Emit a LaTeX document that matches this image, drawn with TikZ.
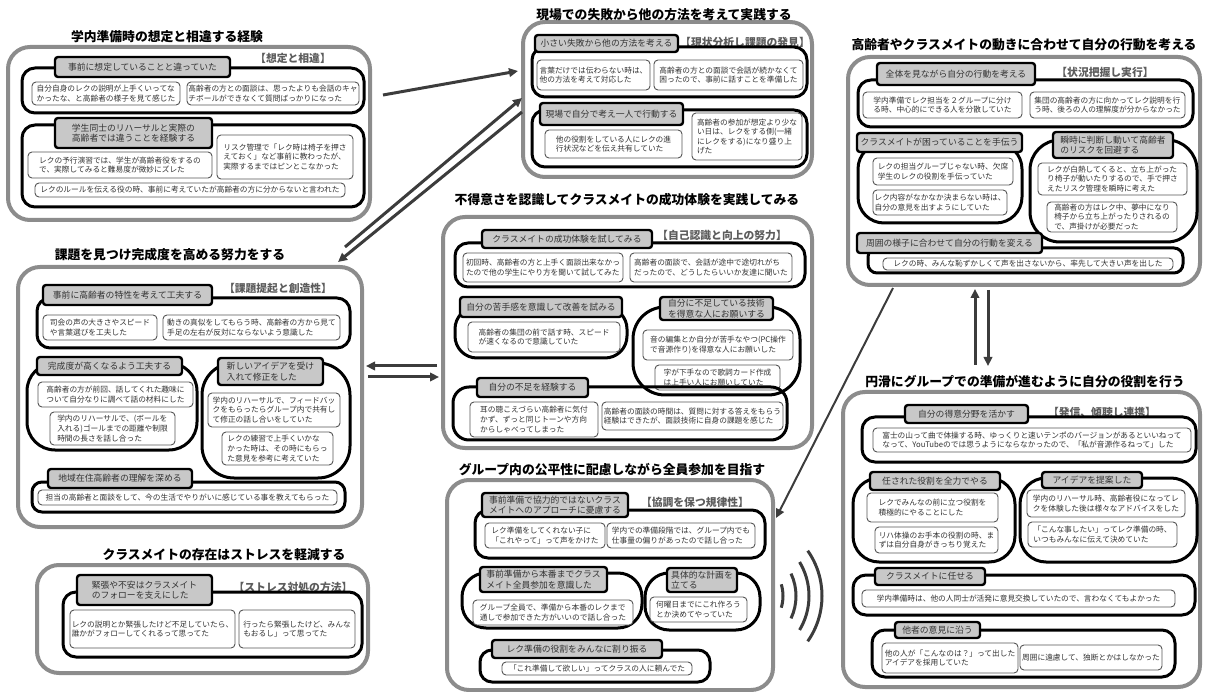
\documentclass[tikz,border=0pt]{standalone}
\usepackage{fontspec}
\setmainfont{Noto Sans CJK JP}
\usepackage{tikz}
\usetikzlibrary{arrows.meta}

\definecolor{panelgray}{HTML}{8C8C8C}
\definecolor{lblgray}{HTML}{C8C8C8}
\definecolor{txtgray}{HTML}{333333}
\definecolor{leafedge}{HTML}{555555}
\definecolor{arrowgray}{HTML}{3C3C3C}
\newcommand\leaffont{\fontsize{7.7}{9.6}\selectfont}
\newcommand\lblfont{\fontsize{8.8}{10.6}\selectfont}
\newcommand\ttlfont{\fontsize{12.8}{14}\selectfont\bfseries}
\newcommand\catfont{\fontsize{10.8}{12}\selectfont\bfseries}

\tikzset{
  spanbox/.style n args={4}{at={({(#1+#3)/2},{(#2+#4)/2})},
    minimum width={(#3-#1)*1pt}, minimum height={(#4-#2)*1pt}},
  panel/.style={draw=panelgray, line width=4pt, rounded corners=22pt, fill=white},
  grp/.style={draw=black, line width=3pt, rounded corners=13pt},
  lbl/.style={draw=black, fill=lblgray, line width=2.4pt, rounded corners=3pt,
    inner sep=1pt, align=left, text=txtgray, font=\lblfont},
  leaf/.style={draw=leafedge, fill=white, line width=.9pt, rounded corners=4pt,
    inner sep=1pt, align=left, text=txtgray, font=\leaffont},
  ttl/.style={font=\ttlfont, text=black},
  cat/.style={font=\catfont, text=txtgray!80!white},
  flow/.style={draw=arrowgray, line width=3pt, -{Triangle[length=9pt,width=8.5pt]}},
  wave/.style={draw=arrowgray, line width=3pt},
}

\begin{document}
\begin{tikzpicture}[x=1pt,y=-1pt]
\useasboundingbox (0,0) rectangle (1205,692);

% ---- 学内準備時の想定と相違する経験
\draw[panel] (8,47) rectangle (370,220);
\node[ttl] (t1) at (167,37) {学内準備時の想定と相違する経験};
\node[cat] (c1) at (293,58) {【想定と相違】};
\draw[grp] (22,68) rectangle (364,113);
\node[lbl, spanbox={55}{57}{230}{77}] (g11) {事前に想定していることと違っていた};
\node[leaf, spanbox={32}{82}{180}{105}] (l111) {自分自身のレクの説明が上手くいってな\\かったな、と高齢者の様子を見て感じた};
\node[leaf, spanbox={187}{82}{359}{105}] (l112) {高齢者の方との面談は、思ったよりも会話のキャ\\チボールができなくて質問ばっかりになった};
\draw[grp] (22,125) rectangle (364,207);
\node[lbl, spanbox={55}{118}{212}{148}] (g12) {学生同士のリハーサルと実際の\\高齢者では違うことを経験する};
\node[leaf, spanbox={28}{152}{212}{178}] (l121) {レクの予行演習では、学生が高齢者役をするの\\で、実際してみると難易度が微妙にズレた};
\node[leaf, spanbox={217}{135}{353}{179}] (l122) {リスク管理で「レク時は椅子を押さ\\えておく」など事前に教わったが、\\実際するまではピンとこなかった};
\node[leaf, spanbox={35}{183}{345}{197}] (l123) {レクのルールを伝える役の時、事前に考えていたが高齢者の方に分からないと言われた};

% ---- 現場での失敗から他の方法を考えて実践する
\draw[panel] (523,22) rectangle (812,177);
\node[ttl] (t2) at (664,15) {現場での失敗から他の方法を考えて実践する};
\node[cat] (c2) at (745,42) {【現状分析し課題の発見】};
\draw[grp] (532,47) rectangle (807,97);
\node[lbl, spanbox={535}{35}{678}{52}] (g21) {小さい失敗から他の方法を考える};
\node[leaf, spanbox={537}{60}{650}{90}] (l211) {言葉だけでは伝わらない時は、\\他の方法を考えて対応した};
\node[leaf, spanbox={654}{60}{803}{90}] (l212) {高齢者の方との面談で会話が続かなくて\\困ったので、事前に話すことを準備した};
\draw[grp] (532,110) rectangle (807,167);
\node[lbl, spanbox={540}{103}{683}{125}] (g22) {現場で自分で考え一人で行動する};
\node[leaf, spanbox={545}{130}{682}{158}] (l221) {他の役割をしている人にレクの進\\行状況などを伝え共有していた};
\node[leaf, spanbox={692}{113}{802}{160}] (l222) {高齢者の参加が想定より少な\\い日は、レクをする側(一緒\\にレクをする)になり盛り上\\げた};

% ---- 高齢者やクラスメイトの動きに合わせて自分の行動を考える
\draw[panel] (848,57) rectangle (1200,285);
\node[ttl] (t3) at (1024,45) {高齢者やクラスメイトの動きに合わせて自分の行動を考える};
\node[cat] (c3) at (1105,72) {【状況把握し実行】};
\draw[grp] (858,80) rectangle (1193,127);
\node[lbl, spanbox={877}{63}{1035}{85}] (g31) {全体を見ながら自分の行動を考える};
\node[leaf, spanbox={863}{92}{1022}{118}] (l311) {学内準備でレク担当を２グループに分け\\る時、中心的にできる人を分散していた};
\node[leaf, spanbox={1030}{92}{1185}{118}] (l312) {集団の高齢者の方に向かってレク説明を行\\う時、後ろの人の理解度が分からなかった};
\draw[grp, rounded corners=26pt] (858,143) rectangle (1022,223);
\node[lbl, spanbox={857}{133}{1022}{152}] (g32) {クラスメイトが困っていることを手伝う};
\node[leaf, spanbox={873}{158}{1013}{185}] (l321) {レクの担当グループじゃない時、欠席\\学生のレクの役割を手伝っていた};
\node[leaf, spanbox={873}{190}{1007}{215}] (l322) {レク内容がなかなか決まらない時は、\\自分の意見を出すようにしていた};
\draw[grp, rounded corners=30pt] (1030,140) rectangle (1197,242);
\node[lbl, spanbox={1053}{132}{1173}{158}] (g33) {瞬時に判断し動いて高齢者\\のリスクを回避する};
\node[leaf, spanbox={1038}{163}{1187}{195}] (l331) {レクが白熱してくると、立ち上がった\\り椅子が動いたりするので、手で押さ\\えたリスク管理を瞬時に考えた};
\node[leaf, spanbox={1047}{202}{1177}{232}] (l332) {高齢者の方はレク中、夢中になり\\椅子から立ち上がったりされるの\\で、声掛けが必要だった};
\draw[grp, rounded corners=9pt] (868,248) rectangle (1183,273);
\node[lbl, spanbox={857}{233}{1042}{253}] (g34) {周囲の様子に合わせて自分の行動を変える};
\node[leaf, spanbox={883}{258}{1173}{270}] (l341) {レクの時、みんな恥ずかしくて声を出さないから、率先して大きい声を出した};

% ---- 課題を見つけ完成度を高める努力をする
\draw[panel] (18,267) rectangle (362,527);
\node[ttl] (t4) at (170,255) {課題を見つけ完成度を高める努力をする};
\node[cat] (c4) at (278,288) {【課題提起と創造性】};
\draw[grp] (37,298) rectangle (350,348);
\node[lbl, spanbox={43}{285}{212}{305}] (g41) {事前に高齢者の特性を考えて工夫する};
\node[leaf, spanbox={43}{315}{157}{340}] (l411) {司会の声の大きさやスピード\\や言葉選びを工夫した};
\node[leaf, spanbox={163}{315}{340}{340}] (l412) {動きの真似をしてもらう時、高齢者の方から見て\\手足の左右が反対にならないよう意識した};
\draw[grp, rounded corners=28pt] (27,363) rectangle (197,450);
\node[lbl, spanbox={37}{357}{182}{375}] (g42) {完成度が高くなるよう工夫する};
\node[leaf, spanbox={38}{382}{193}{407}] (l421) {高齢者の方が前回、話してくれた趣味に\\ついて自分なりに調べて話の材料にした};
\node[leaf, spanbox={50}{412}{175}{445}] (l422) {学内のリハーサルで、(ボールを\\入れる)ゴールまでの距離や制限\\時間の長さを話し合った};
\draw[grp, rounded corners=32pt] (202,363) rectangle (350,478);
\node[lbl, spanbox={218}{358}{323}{385}] (g43) {新しいアイデアを受け\\入れて修正をした};
\node[leaf, spanbox={208}{393}{340}{427}] (l431) {学内のリハーサルで、フィードバッ\\クをもらったらグループ内で共有し\\て修正の話し合いをしていた};
\node[leaf, spanbox={222}{432}{333}{465}] (l432) {レクの練習で上手くいかな\\かった時は、その時にもらっ\\た意見を参考に考えていた};
\draw[grp, rounded corners=10pt] (32,482) rectangle (345,512);
\node[lbl, spanbox={48}{469}{192}{488}] (g44) {地域在住高齢者の理解を深める};
\node[leaf, spanbox={38}{490}{337}{505}] (l441) {担当の高齢者と面談をして、今の生活でやりがいに感じている事を教えてもらった};

% ---- クラスメイトの存在はストレスを軽減する
\draw[panel] (37,565) rectangle (368,673);
\node[ttl] (t5) at (224,555) {クラスメイトの存在はストレスを軽減する};
\node[cat] (c5) at (293,587) {【ストレス対処の方法】};
\draw[grp] (63,592) rectangle (362,657);
\node[lbl, spanbox={77}{575}{212}{605}] (g51) {緊張や不安はクラスメイト\\のフォローを支えにした};
\node[leaf, spanbox={70}{610}{235}{648}] (l511) {レクの説明とか緊張したけど不足していたら、\\誰かがフォローしてくれるって思ってた};
\node[leaf, spanbox={239}{610}{355}{648}] (l512) {行ったら緊張したけど、みんな\\もおるし」って思ってた};

% ---- 不得意さを認識してクラスメイトの成功体験を実践してみる
\draw[panel] (443,217) rectangle (812,448);
\node[ttl] (t6) at (627,200) {不得意さを認識してクラスメイトの成功体験を実践してみる};
\node[cat] (c6) at (722,235) {【自己認識と向上の努力】};
\draw[grp] (455,243) rectangle (805,287);
\node[lbl, spanbox={482}{230}{652}{248}] (g61) {クラスメイトの成功体験を試してみる};
\node[leaf, spanbox={463}{253}{623}{282}] (l611) {初回時、高齢者の方と上手く面談出来なかっ\\たので他の学生にやり方を聞いて試してみた};
\node[leaf, spanbox={630}{253}{792}{282}] (l612) {高齢者の面談で、会話が途中で途切れがち\\だったので、どうしたらいいか友達に聞いた};
\draw[grp, rounded corners=22pt] (455,307) rectangle (627,358);
\node[lbl, spanbox={460}{297}{622}{317}] (g62) {自分の苦手感を意識して改善を試みる};
\node[leaf, spanbox={468}{322}{620}{352}] (l621) {高齢者の集団の前で話す時、スピード\\が速くなるので意識していた};
\draw[grp, rounded corners=32pt] (633,307) rectangle (800,395);
\node[lbl, spanbox={660}{297}{773}{320}] (g63) {自分に不足している技術\\を得意な人にお願いする};
\node[leaf, spanbox={643}{330}{793}{360}] (l631) {音の編集とか自分が苦手なやつ(PC操作\\で音源作り)を得意な人にお願いした};
\node[leaf, spanbox={655}{365}{780}{390}] (l632) {字が下手なので歌詞カード作成\\は上手い人にお願いしていた};
\draw[grp, rounded corners=16pt] (453,387) rectangle (787,440);
\node[lbl, spanbox={477}{378}{588}{397}] (g64) {自分の不足を経験する};
\node[leaf, spanbox={470}{402}{598}{437}] (l641) {耳の聴こえづらい高齢者に気付\\かず、ずっと同じトーンや方向\\からしゃべってしまった};
\node[leaf, spanbox={602}{402}{783}{430}] (l642) {高齢者の面談の時間は、質問に対する答えをもらう\\経験はできたが、面談技術に自身の課題を感じた};

% ---- グループ内の公平性に配慮しながら全員参加を目指す
\draw[panel] (447,480) rectangle (773,690);
\node[ttl] (t7) at (612,470) {グループ内の公平性に配慮しながら全員参加を目指す};
\node[cat] (c7) at (695,502) {【協調を保つ規律性】};
\draw[grp] (475,510) rectangle (765,558);
\node[lbl, spanbox={482}{493}{628}{517}] (g71) {事前準備で協力的ではないクラス\\メイトへのアプローチに憂慮する};
\node[leaf, spanbox={485}{523}{605}{548}] (l711) {レク準備をしてくれない子に\\「これやって」って声をかけた};
\node[leaf, spanbox={607}{523}{755}{548}] (l712) {学内での準備段階では、グループ内でも\\仕事量の偏りがあったので話し合った};
\draw[grp, rounded corners=24pt] (462,573) rectangle (642,628);
\node[lbl, spanbox={480}{567}{607}{592}] (g72) {事前準備から本番までクラス\\メイト全員参加を意識した};
\node[leaf, spanbox={473}{600}{633}{625}] (l721) {グループ全員で、準備から本番のレクまで\\通しで参加できた方がいいので話し合った};
\draw[grp, rounded corners=24pt] (645,573) rectangle (760,630);
\node[lbl, spanbox={667}{568}{737}{592}] (g73) {具体的な計画を\\立てる};
\node[leaf, spanbox={650}{597}{747}{622}] (l731) {何曜日までにこれ作ろう\\とか決めてやっていた};
\draw[grp, rounded corners=12pt] (480,650) rectangle (710,682);
\node[lbl, spanbox={492}{640}{662}{658}] (g74) {レク準備の役割をみんなに割り振る};
\node[leaf, spanbox={502}{662}{692}{675}] (l741) {「これ準備して欲しい」ってクラスの人に頼んでた};

% ---- 円滑にグループでの準備が進むように自分の役割を行う
\draw[panel] (843,392) rectangle (1200,687);
\node[ttl] (t8) at (1025,382) {円滑にグループでの準備が進むように自分の役割を行う};
\node[cat] (c8) at (1102,412) {【発信、傾聴し連携】};
\draw[grp] (862,417) rectangle (1196,462);
\node[lbl, spanbox={905}{405}{1028}{423}] (g81) {自分の得意分野を活かす};
\node[leaf, spanbox={873}{428}{1191}{452}] (l811) {富士の山って曲で体操する時、ゆっくりと速いテンポのバージョンがあるといいねって\\なって、YouTubeのでは思うようにならなかったので、「私が音源作るねって」した};
\draw[grp, rounded corners=26pt] (853,478) rectangle (1015,562);
\node[lbl, spanbox={870}{472}{1000}{490}] (g82) {任された役割を全力でやる};
\node[leaf, spanbox={867}{493}{998}{522}] (l821) {レクでみんなの前に立つ役割を\\積極的にやることにした};
\node[leaf, spanbox={875}{527}{998}{553}] (l822) {リハ体操のお手本の役割の時、ま\\ずは自分自身がきっちり覚えた};
\draw[grp, rounded corners=26pt] (1020,478) rectangle (1197,562);
\node[lbl, spanbox={1042}{472}{1142}{488}] (g83) {アイデアを提案した};
\node[leaf, spanbox={1027}{490}{1185}{517}] (l831) {学内のリハーサル時、高齢者役になってレ\\クを体験した後は様々なアドバイスをした};
\node[leaf, spanbox={1028}{522}{1177}{547}] (l832) {「こんな事したい」ってレク準備の時、\\いつもみんなに伝えて決めていた};
\draw[grp] (853,575) rectangle (1195,615);
\node[lbl, spanbox={875}{568}{985}{585}] (g84) {クラスメイトに任せる};
\node[leaf, spanbox={862}{590}{1175}{607}] (l841) {学内準備時は、他の人同士が活発に意見交換していたので、言わなくてもよかった};
\draw[grp] (872,630) rectangle (1175,677);
\node[lbl, spanbox={895}{622}{980}{638}] (g85) {他者の意見に沿う};
\node[leaf, spanbox={882}{643}{1018}{673}] (l851) {他の人が「こんなのは？」って出した\\アイデアを採用していた};
\node[leaf, spanbox={1020}{645}{1162}{670}] (l852) {周囲に遠慮して、独断とかはしなかった};

% ---- arrows
\coordinate (a1s) at (383,95);  \coordinate (a1e) at (518,71);
\coordinate (a2s) at (345,247); \coordinate (a2e) at (522,98);
\coordinate (a3s) at (522,112); \coordinate (a3e) at (338,262);
\coordinate (a4s) at (437,366); \coordinate (a4e) at (366,366);
\coordinate (a5s) at (368,377); \coordinate (a5e) at (439,377);
\coordinate (a6s) at (975,365); \coordinate (a6e) at (975,289);
\coordinate (a7s) at (988,290); \coordinate (a7e) at (988,366);
\coordinate (a8s) at (893,288); \coordinate (a8e) at (776,518);
\draw[flow] (a1s) -- (a1e);
\draw[flow] (a2s) -- (a2e);
\draw[flow] (a3s) -- (a3e);
\draw[flow] (a4s) -- (a4e);
\draw[flow] (a5s) -- (a5e);
\draw[flow] (a6s) -- (a6e);
\draw[flow] (a7s) -- (a7e);
\draw[flow, line width=2pt] (a8s) -- (a8e);

% ---- sound waves
\coordinate (w) at (743,596);
\foreach \r/\a in {40/17,53/25,66/31,79/35}
  \draw[wave] (w) ++(-\a:\r) arc[start angle=-\a, end angle=\a, radius=\r];
\end{tikzpicture}
\end{document}
